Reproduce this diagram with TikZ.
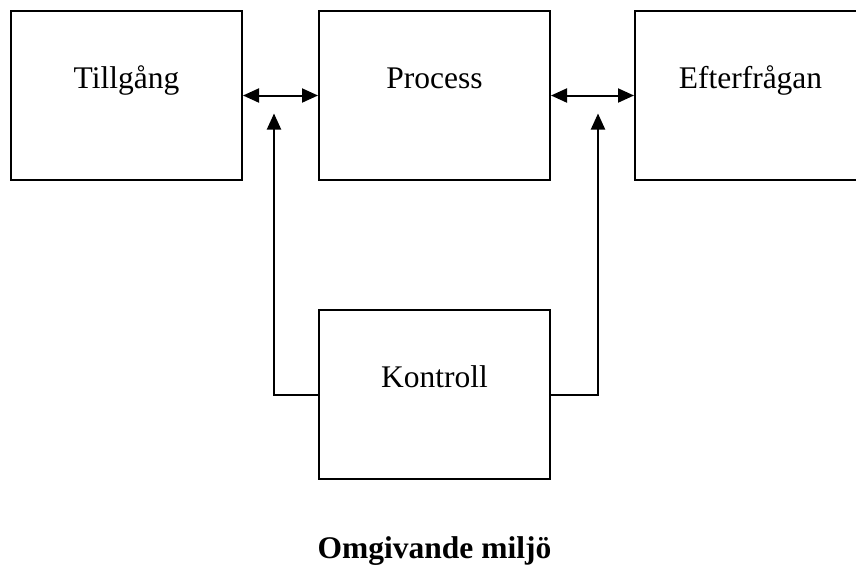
\documentclass[tikz,border=0pt]{standalone}
\usepackage{fontspec}
\setmainfont{Liberation Serif}
\usetikzlibrary{arrows.meta,positioning}
\tikzset{
  >={Triangle[length=16pt,width=14pt]},
  block/.style={
    rectangle,
    draw, line width=2pt,
    minimum width=231pt,
    inner sep=0pt,
    text height=77pt,
    text depth=92pt,
    font=\fontsize{31.5}{38}\selectfont},
  line/.style={draw, line width=2pt},
  caption/.style={font=\fontsize{31.5}{38}\selectfont\bfseries},
}
\begin{document}
\begin{tikzpicture}
  [node distance=75pt]
  \useasboundingbox (0,0) rectangle (856pt,-566pt);
     \node[block, anchor=north west] (tillgang) at (10pt,-10pt) {Tillgång};
     \node[block, right=of tillgang] (process) {Process};
     \node[block, right=83pt of process] (efterfragan) {Efterfrågan};
     \node[block, below=128pt of process] (kontroll) {Kontroll};
     \node[caption, anchor=base] (miljo) at ([yshift=-78pt]kontroll.south) {Omgivande miljö};
  % arrow tips below the double arrows
  \coordinate (tipL) at ([xshift=31pt,yshift=-18pt]tillgang.east);
  \coordinate (tipR) at ([xshift=47pt,yshift=-18pt]process.east);
  \path[line,<->] (tillgang.east) -- (process.west);
  \path[line,<->] (process.east) -- (efterfragan.west);
  \path[line,->] (kontroll.west) -| (tipL);
  \path[line,->] (kontroll.east) -| (tipR);
\end{tikzpicture}
\end{document}
